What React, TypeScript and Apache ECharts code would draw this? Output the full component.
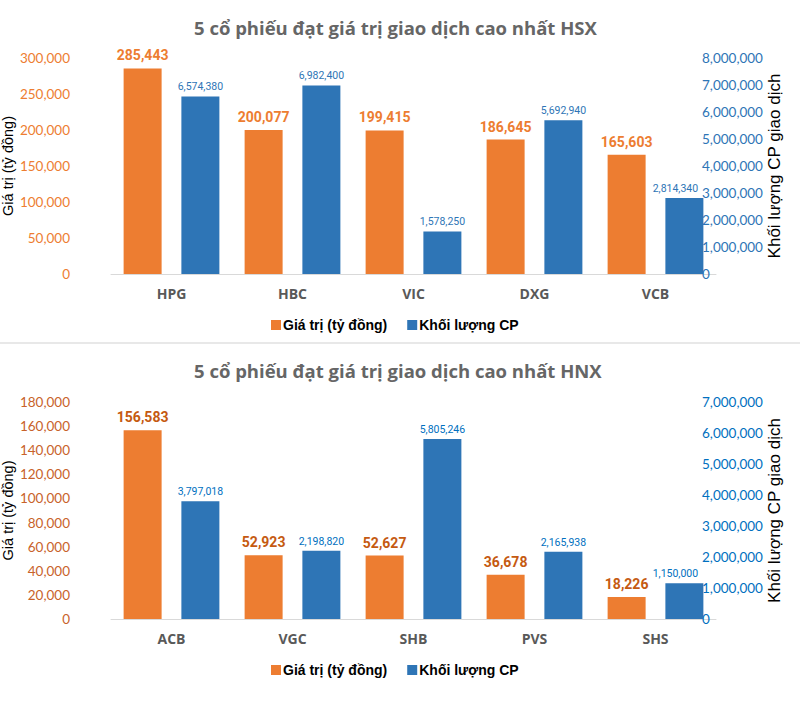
import React, { useEffect, useRef } from "react";
import * as echarts from "echarts";

const seriesNames = ["Giá trị (tỷ đồng)", "Khối lượng CP"];

const hsxTitle = "5 cổ phiếu đạt giá trị giao dịch cao nhất HSX";
const hsxCategories = ["HPG", "HBC", "VIC", "DXG", "VCB"];
const hsxValue = [285443, 200077, 199415, 186645, 165603];
const hsxVolume = [6574380, 6982400, 1578250, 5692940, 2814340];

const hnxTitle = "5 cổ phiếu đạt giá trị giao dịch cao nhất HNX";
const hnxCategories = ["ACB", "VGC", "SHB", "PVS", "SHS"];
const hnxValue = [156583, 52923, 52627, 36678, 18226];
const hnxVolume = [3797018, 2198820, 5805246, 2165938, 1150000];

const leftAxisName = "Giá trị (tỷ đồng)";
const rightAxisName = "Khối lượng CP giao dịch";

const fmt = (v: number) => v.toLocaleString("en-US");

const ORANGE = "#ED7D31";
const BLUE = "#2E75B6";

export default function App() {
  const ref = useRef<HTMLDivElement>(null);
  useEffect(() => {
    if (!ref.current) return;
    const chart = echarts.init(ref.current, null, { renderer: "svg" });

    const panels = [
      {
        title: hsxTitle, cats: hsxCategories, val: hsxValue, vol: hsxVolume,
        top: 58, height: 216, lmax: 300000, lint: 50000, rmax: 8000000, rint: 1000000,
        titleTop: 13, legendTop: 313, lColor: ORANGE, rColor: BLUE, valLabel: ORANGE, volLabel: BLUE,
      },
      {
        title: hnxTitle, cats: hnxCategories, val: hnxValue, vol: hnxVolume,
        top: 402, height: 217, lmax: 180000, lint: 20000, rmax: 7000000, rint: 1000000,
        titleTop: 356, legendTop: 658, lColor: "#C8622A", rColor: "#0070C0", valLabel: "#C55A11", volLabel: "#0070C0",
      },
    ];

    const option: any = {
      animation: false,
      backgroundColor: "#fff",
      title: panels.map((p) => ({
        text: p.title,
        left: 189,
        top: p.titleTop,
        textStyle: { fontFamily: "Open Sans", fontWeight: "bold", fontSize: 18.5, color: "#666666" },
      })),
      legend: panels.map((p) => ({
        data: seriesNames,
        left: 266,
        top: p.legendTop,
        icon: "rect",
        itemWidth: 10,
        itemHeight: 10,
        itemGap: 20,
        selectedMode: false,
        textStyle: { fontFamily: "Liberation Sans", fontWeight: "bold", fontSize: 14, color: "#000", padding: [0, 0, 0, -3] },
      })),
      grid: panels.map((p) => ({ left: 111, width: 605, top: p.top, height: p.height, outerBoundsMode: "none", containLabel: false })),
      xAxis: panels.map((p, i) => ({
        type: "category",
        gridIndex: i,
        data: p.cats,
        axisLine: { lineStyle: { color: "#D9D9D9", width: 1 } },
        axisTick: { show: false },
        axisLabel: { margin: 12, fontFamily: "Open Sans", fontWeight: "bold", fontSize: 14, color: "#595959" },
      })),
      yAxis: panels.flatMap((p, i) => [
        {
          type: "value",
          gridIndex: i,
          position: "left",
          min: 0,
          max: p.lmax,
          interval: p.lint,
          splitLine: { show: false },
          axisLine: { show: false },
          axisTick: { show: false },
          axisLabel: { margin: 41, fontFamily: "Lato", fontSize: 13.5, color: p.lColor, formatter: (v: number) => fmt(v) },
          name: leftAxisName,
          nameLocation: "middle",
          nameGap: 96,
          nameMoveOverlap: false,
          nameTextStyle: { fontFamily: "Liberation Sans", fontSize: 14.5, color: "#000" },
        },
        {
          type: "value",
          gridIndex: i,
          position: "right",
          min: 0,
          max: p.rmax,
          interval: p.rint,
          splitLine: { show: false },
          axisLine: { show: false },
          axisTick: { show: false },
          axisLabel: { margin: -14, fontFamily: "Lato", fontSize: 13.5, color: p.rColor, formatter: (v: number) => fmt(v) },
          name: rightAxisName,
          nameLocation: "middle",
          nameGap: 50,
          nameMoveOverlap: false,
          nameRotate: 90,
          nameTextStyle: { fontFamily: "Liberation Sans", fontSize: 17, color: "#000" },
        },
      ]),
      series: panels.flatMap((p, i) => [
        {
          name: seriesNames[0],
          type: "bar",
          xAxisIndex: i,
          yAxisIndex: i * 2,
          data: p.val,
          barWidth: 38,
          barGap: "52%",
          itemStyle: { color: ORANGE },
          label: {
            show: true,
            position: "top",
            distance: 6,
            fontFamily: "Roboto",
            fontWeight: "bold",
            fontSize: 14,
            color: p.valLabel,
            formatter: (d: any) => fmt(d.value),
          },
        },
        {
          name: seriesNames[1],
          type: "bar",
          xAxisIndex: i,
          yAxisIndex: i * 2 + 1,
          data: p.vol.map((v, j) => (j === p.vol.length - 1 ? { value: v, label: { offset: [-9, 0] } } : v)),
          barWidth: 38,
          barGap: "52%",
          itemStyle: { color: BLUE },
          label: {
            show: true,
            position: "top",
            distance: 4,
            fontFamily: "Roboto",
            fontSize: 10.5,
            color: p.volLabel,
            formatter: (d: any) => fmt(d.value),
          },
        },
      ]),
      graphic: [
        { type: "rect", shape: { x: 0, y: 342, width: 800, height: 2 }, style: { fill: "#E8E8E8" } },
      ],
    };
    chart.setOption(option);
    return () => chart.dispose();
  }, []);
  return <div ref={ref} style={{ position: "fixed", left: 0, top: 0, width: 800, height: 712 }} />;
}
